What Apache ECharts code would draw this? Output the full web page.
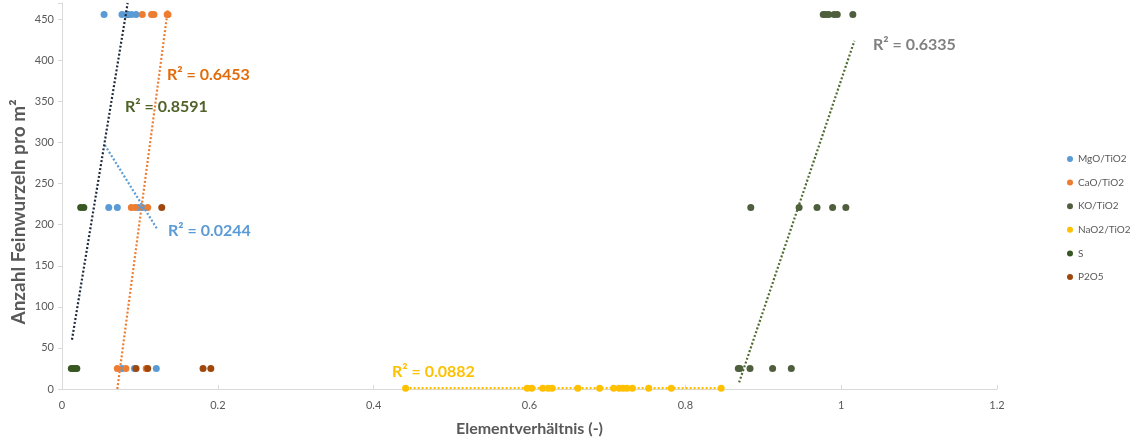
<!DOCTYPE html>
<html><head><meta charset="utf-8">
<script src="https://cdn.jsdelivr.net/npm/echarts@6/dist/echarts.min.js"></script>
<style>html,body{margin:0;padding:0;background:#fff}#c{width:1134px;height:441px}</style>
</head><body><div id="c"></div>
<script>
// ---- data ----
const seriesNames = ['MgO/TiO2', 'CaO/TiO2', 'KO/TiO2', 'NaO2/TiO2', 'S', 'P2O5'];
const mgoX = [0.054, 0.077, 0.083, 0.089, 0.095, 0.060, 0.071, 0.098, 0.103, 0.077, 0.093, 0.121];
const mgoY = [456, 456, 456, 456, 456, 221, 221, 221, 221, 25, 25, 25];
const caoX = [0.103, 0.115, 0.118, 0.135, 0.136, 0.089, 0.094, 0.110, 0.071, 0.082, 0.108];
const caoY = [456, 456, 456, 456, 456, 221, 221, 221, 25, 25, 25];
const koX = [0.977, 0.980, 0.984, 0.991, 0.995, 1.015, 0.884, 0.946, 0.969, 0.989, 1.006, 0.868, 0.870, 0.883, 0.912, 0.936];
const koY = [456, 456, 456, 456, 456, 456, 221, 221, 221, 221, 221, 25, 25, 25, 25, 25];
const naoX = [0.441, 0.597, 0.603, 0.617, 0.624, 0.629, 0.662, 0.690, 0.708, 0.715, 0.720, 0.725, 0.732, 0.753, 0.782, 0.846];
const naoY = [1, 1, 1, 1, 1, 1, 1, 1, 1, 1, 1, 1, 1, 1, 1, 1];
const sX = [0.012, 0.014, 0.017, 0.019, 0.024, 0.028, 0.084];
const sY = [25, 25, 25, 25, 221, 221, 456];
const p2o5X = [0.128, 0.095, 0.110, 0.181, 0.191];
const p2o5Y = [221, 25, 25, 25, 25];
// linear trendlines: [x start, y start, x end, y end]
const trendMgO = [0.055, 297, 0.122, 195];
const trendCaO = [0.071, 0, 0.136, 463];
const trendKO = [0.869, 8, 1.017, 424];
const trendNaO2 = [0.441, 1, 0.846, 1];
const trendS = [0.0128, 60, 0.0843, 470];
const xTicks = ['0', '0.2', '0.4', '0.6', '0.8', '1', '1.2'];
const r2Labels = ['R² = 0.0244', 'R² = 0.6453', 'R² = 0.6335', 'R² = 0.0882', 'R² = 0.8591'];

// ---- styles ----
const colors = ['#5B9BD5', '#ED7D31', '#4F5F3E', '#FFC000', '#385723', '#9E480E'];
const FONT = 'Lato, "Open Sans", sans-serif';

function pts(xs, ys) { return xs.map((x, i) => [x, ys[i]]); }
const sets = [[mgoX, mgoY], [caoX, caoY], [koX, koY], [naoX, naoY], [sX, sY], [p2o5X, p2o5Y]];
const series = [];
sets.forEach((s, i) => {
  series.push({
    name: seriesNames[i], type: 'scatter', data: pts(s[0], s[1]),
    symbolSize: 7, itemStyle: { color: colors[i], opacity: 1 },
    z: i === 4 ? 1 : 2, silent: true
  });
});
const trends = [[trendMgO, '#5B9BD5'], [trendCaO, '#ED7D31'], [trendKO, '#4E6B30'], [trendNaO2, '#FFC000'], [trendS, '#1E2A3A']];
trends.forEach((t, k) => {
  const d = t[0];
  series.push({
    name: 'trend' + k, type: 'line', data: [[d[0], d[1]], [d[2], d[3]]],
    showSymbol: false, symbol: 'none', clip: false, silent: true, z: 3,
    lineStyle: { color: t[1], width: 2.2, type: [2, 2], cap: 'butt' }
  });
});

const chart = echarts.init(document.getElementById('c'), null, { renderer: 'canvas' });
chart.setOption({
  animation: false,
  backgroundColor: '#fff',
  textStyle: { fontFamily: FONT },
  grid: { left: 62, right: 137, top: 3, bottom: 52, containLabel: false, outerBoundsMode: 'none' },
  legend: {
    data: seriesNames, orient: 'vertical', left: 1062, top: 149,
    icon: 'circle', itemWidth: 6, itemHeight: 6, itemGap: 13.6,
    textStyle: { fontFamily: FONT, fontSize: 10, color: '#595959' }
  },
  xAxis: {
    type: 'value', min: 0, max: 1.2, interval: 0.2,
    name: 'Elementverhältnis (-)', nameLocation: 'middle', nameGap: 32,
    nameTextStyle: { fontFamily: FONT, fontSize: 16, fontWeight: 'bold', color: '#595959' },
    axisLine: { show: true, onZero: false, lineStyle: { color: '#D9D9D9', width: 1 } },
    axisTick: { show: true, inside: true, length: 4, lineStyle: { color: '#D9D9D9' } },
    splitLine: { show: false },
    axisLabel: { fontSize: 11, color: '#595959', margin: 11, fontFamily: FONT,
      formatter: v => xTicks[Math.round(v / 0.2)] }
  },
  yAxis: {
    type: 'value', min: 0, max: 470, interval: 50,
    axisLine: { show: true, lineStyle: { color: '#D9D9D9', width: 1 } },
    axisTick: { show: true, length: 4, lineStyle: { color: '#D9D9D9' } },
    splitLine: { show: false },
    axisLabel: { fontSize: 11, color: '#595959', margin: 8, fontFamily: FONT,
      formatter: v => (v % 50 === 0 ? String(v) : '') }
  },
  graphic: [
    { type: 'text', x: 19, y: 212, rotation: Math.PI / 2,
      style: { text: 'Anzahl Feinwurzeln pro m²', fill: '#595959', font: 'bold 19px ' + FONT,
        align: 'center', verticalAlign: 'middle' } },
    { type: 'text', left: 168, top: 223, style: { text: r2Labels[0], fill: '#5B9BD5', font: 'bold 16px ' + FONT } },
    { type: 'text', left: 167, top: 67, style: { text: r2Labels[1], fill: '#E26B0A', font: 'bold 16px ' + FONT } },
    { type: 'text', left: 873, top: 37, style: { text: r2Labels[2], fill: '#808080', font: 'bold 16px ' + FONT } },
    { type: 'text', left: 392, top: 364, style: { text: r2Labels[3], fill: '#FFC000', font: 'bold 16px ' + FONT } },
    { type: 'text', left: 125, top: 99, style: { text: r2Labels[4], fill: '#4F6228', font: 'bold 16px ' + FONT } }
  ],
  series: series
});
</script></body></html>
